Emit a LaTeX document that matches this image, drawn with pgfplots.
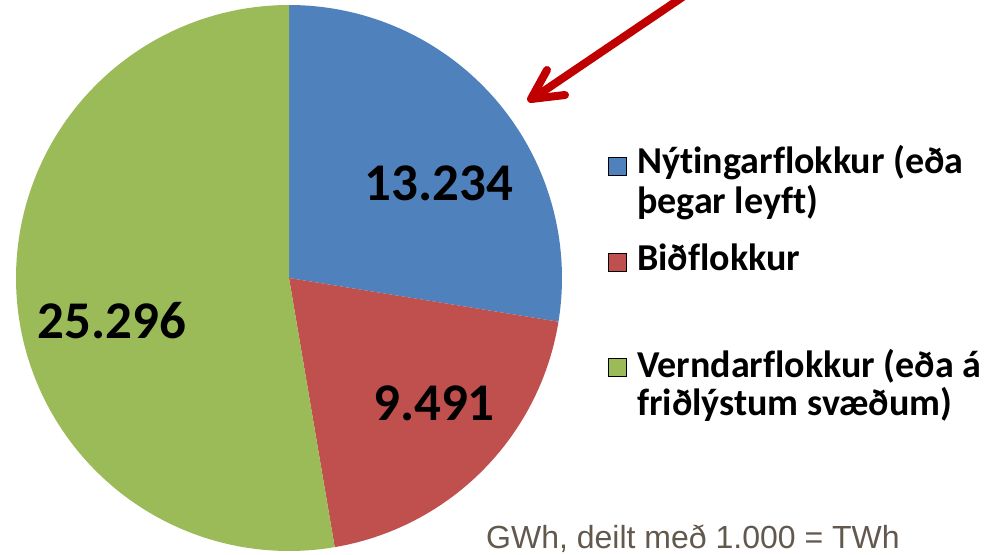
\documentclass[border=0pt]{standalone}
\usepackage{pgfplots}
\pgfplotsset{compat=1.18}
\usepackage{fontspec}
\setmainfont{Carlito}[Ligatures=NoCommon]
\newfontfamily\arialf{Liberation Sans}
\definecolor{pieblue}{RGB}{79,129,189}
\definecolor{piered}{RGB}{192,80,77}
\definecolor{piegreen}{RGB}{155,187,89}
\definecolor{arrowred}{RGB}{192,0,0}
\definecolor{notegray}{RGB}{98,88,78}
\begin{document}
\begin{tikzpicture}
\pgfmathsetmacro{\vA}{13.234}
\pgfmathsetmacro{\vB}{9.491}
\pgfmathsetmacro{\vC}{25.296}
\pgfmathsetmacro{\tot}{\vA+\vB+\vC}
\pgfmathsetmacro{\aB}{90-360*\vA/\tot}
\pgfmathsetmacro{\aC}{\aB-360*\vB/\tot}
\begin{axis}[x=1bp,y=1bp,anchor=origin,at={(0,0)},hide axis,
  xmin=0,xmax=992,ymin=0,ymax=555,clip=false]
% pie slices (centre 289,277; radius 273)
\addplot[fill=pieblue,draw=none,domain=\aB:90,samples=120]
  ({289+273*cos(x)},{277+273*sin(x)}) -- (289,277) -- cycle;
\addplot[fill=piered,draw=none,domain=\aC:\aB,samples=120]
  ({289+273*cos(x)},{277+273*sin(x)}) -- (289,277) -- cycle;
\addplot[fill=piegreen,draw=none,domain=-270:\aC,samples=200]
  ({289+273*cos(x)},{277+273*sin(x)}) -- (289,277) -- cycle;
% data labels
\node[anchor=base,font=\fontsize{53bp}{60bp}\selectfont\bfseries] at (439,355) {13.234};
\node[anchor=base,font=\fontsize{53bp}{60bp}\selectfont\bfseries] at (434,135) {9.491};
\node[anchor=base,font=\fontsize{53bp}{60bp}\selectfont\bfseries] at (112,217) {25.296};
% legend
\addplot[only marks,mark=square*,mark size=9bp,draw=none,fill=pieblue] coordinates {(617,389)};
\addplot[only marks,mark=square*,mark size=9bp,draw=none,fill=piered] coordinates {(617,293)};
\addplot[only marks,mark=square*,mark size=9bp,draw=none,fill=piegreen] coordinates {(617,188)};
\begin{scope}[every node/.style={anchor=base west,inner sep=0pt,font=\fontsize{38bp}{40bp}\selectfont\bfseries}]
\node at (637,382) {Nýtingarflokkur (eða};
\node at (637,342) {þegar leyft)};
\node at (637,285) {Biðflokkur};
\node at (637,178) {Verndarflokkur (eða á};
\node at (637,140) {friðlýstum svæðum)};
\end{scope}
% note
\node[anchor=base west,inner sep=0pt,text=notegray,font=\arialf\fontsize{32bp}{36bp}\selectfont] at (486,7) {GWh, deilt með 1.000 = TWh};
% arrow
\addplot[draw=arrowred,line width=8bp,line cap=round,line join=round] coordinates {(532,456)(690,563)};
\addplot[draw=arrowred,line width=8bp,line cap=round,line join=round] coordinates {(547,485)(531,456)(565,460)};
\end{axis}
\pgfresetboundingbox
\path (0,0) rectangle (992bp,555bp);
\end{tikzpicture}
\end{document}
